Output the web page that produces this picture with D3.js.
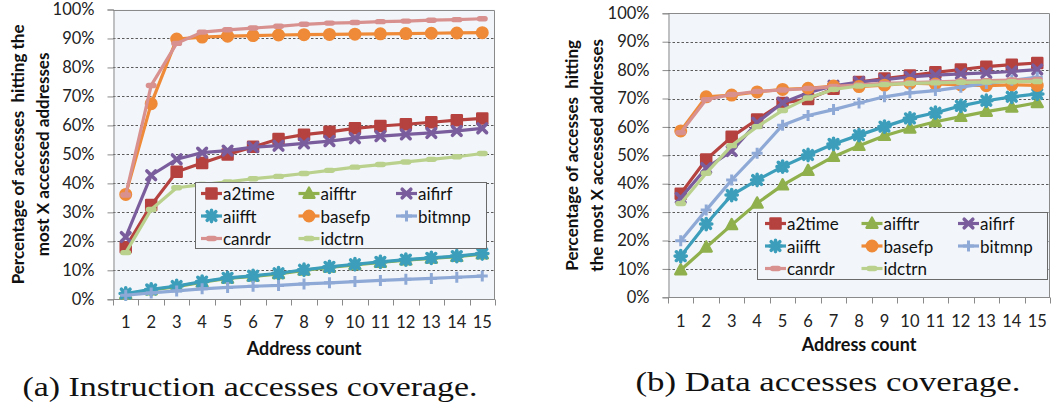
<!DOCTYPE html>
<html>
<head>
<meta charset="utf-8">
<script src="https://cdn.jsdelivr.net/npm/d3@7"></script>
<style>
  body { margin: 0; background: #fff; }
  svg { display: block; }
</style>
</head>
<body>
<svg id="fig" width="1051" height="409"></svg>
<script>
// ---- data -------------------------------------------------------------
const addressCounts = [1, 2, 3, 4, 5, 6, 7, 8, 9, 10, 11, 12, 13, 14, 15];
const percentTicks = [0, 10, 20, 30, 40, 50, 60, 70, 80, 90, 100];
const seriesNames = ["a2time", "aifftr", "aifirf", "aiifft", "basefp", "bitmnp", "canrdr", "idctrn"];

// (a) instruction accesses coverage, percent
const instrA2time = [18, 32.5, 44, 47, 50, 52.6, 55.3, 56.8, 57.8, 59, 59.8, 60.4, 61.1, 61.8, 62.4];
const instrAifftr = [1.8, 3.2, 4.4, 5.9, 7.2, 7.9, 8.8, 10, 11, 11.9, 12.7, 13.5, 14.1, 14.7, 15.6];
const instrAifirf = [21.5, 42.8, 48.3, 50.6, 51.3, 52.5, 53, 53.8, 54.6, 55.6, 56.3, 56.9, 57.4, 58.1, 59];
const instrAiifft = [2, 3.4, 4.6, 6.1, 7.4, 8.1, 9, 10.2, 11.2, 12.1, 12.9, 13.7, 14.3, 14.9, 15.8];
const instrBasefp = [36.2, 67.5, 89.8, 90.5, 90.8, 91, 91.2, 91.3, 91.4, 91.5, 91.6, 91.7, 91.8, 91.9, 92];
const instrBitmnp = [1.4, 2.2, 2.9, 3.6, 4.1, 4.5, 4.8, 5.3, 5.7, 6.1, 6.5, 6.9, 7.2, 7.6, 8];
const instrCanrdr = [36, 73.8, 88.3, 92.2, 93, 93.6, 94.2, 94.9, 95.3, 95.5, 95.8, 96, 96.3, 96.5, 96.8];
const instrIdctrn = [16.1, 31, 38.5, 39.6, 40.5, 41.6, 42.4, 43.4, 44.5, 45.6, 46.5, 47.4, 48.3, 49.2, 50.3];

// (b) data accesses coverage, percent
const dataA2time = [36.5, 48.5, 56.5, 62.6, 68.4, 69.8, 73.4, 75.8, 77, 78.1, 79.2, 80.2, 81.2, 81.9, 82.5];
const dataAifftr = [9.6, 17.6, 25.5, 33.1, 39.5, 44.6, 49.5, 53.4, 56.9, 59.5, 61.8, 63.6, 65.4, 66.9, 68.5];
const dataAifirf = [35, 45.5, 51.5, 61.5, 68.5, 72, 74.5, 75.8, 76.6, 77.6, 78.2, 78.7, 79, 79.5, 80.2];
const dataAiifft = [14.5, 25.8, 36, 41.3, 46, 50.1, 54, 57.1, 60.1, 63, 65, 67.4, 69.2, 70.6, 71.6];
const dataBasefp = [58.6, 70.6, 71.2, 72.3, 73.2, 73.6, 74.4, 74.2, 74.7, 75.4, 75.1, 74.8, 74.5, 74.8, 74.6];
const dataBitmnp = [19.9, 30.7, 41.3, 50.7, 60.6, 64, 66.1, 68.4, 70.6, 72, 72.8, 74, 75.3, 76.4, 77.5];
const dataCanrdr = [58, 69.6, 71.4, 72.5, 73, 73.5, 74.2, 74.8, 75.3, 75.6, 75.9, 76.1, 76.3, 76.5, 76.7];
const dataIdctrn = [33, 43.7, 53.4, 60.1, 65.8, 70.2, 73.2, 74.4, 74.9, 75.3, 75.5, 75.7, 75.8, 75.9, 76];

const instrSeries = [instrA2time, instrAifftr, instrAifirf, instrAiifft, instrBasefp, instrBitmnp, instrCanrdr, instrIdctrn];
const dataSeries = [dataA2time, dataAifftr, dataAifirf, dataAiifft, dataBasefp, dataBitmnp, dataCanrdr, dataIdctrn];

// ---- styling ----------------------------------------------------------
const seriesColors = ["#B5423F", "#8FB04C", "#7A5D9C", "#3C9EBA", "#EE8A38", "#8FA9D6", "#D8918F", "#B9D18C"];
const markerKinds = ["square", "triangle", "cross", "star", "circle", "plus", "dash", "dash"];
const uiFont = "Lato, 'Open Sans', sans-serif";
const tickSize = 16.5;
const legendSize = 17;

// marker drawing: filled shapes get a same-colour outline, stroked shapes use thick strokes
function drawMarker(sel, kind, color) {
  switch (kind) {
    case "square":
      sel.append("rect").attr("x", -5).attr("y", -5).attr("width", 10).attr("height", 10)
        .attr("fill", color).attr("stroke", color).attr("stroke-width", 2.5).attr("stroke-linejoin", "round");
      break;
    case "circle":
      sel.append("circle").attr("r", 5.5)
        .attr("fill", color).attr("stroke", color).attr("stroke-width", 2);
      break;
    case "triangle":
      sel.append("path").attr("d", "M0,-6L5.6,4.3L-5.6,4.3Z")
        .attr("fill", color).attr("stroke", color).attr("stroke-width", 2.2).attr("stroke-linejoin", "round");
      break;
    case "cross":
      sel.append("path").attr("d", "M-4.3,-4.3L4.3,4.3M-4.3,4.3L4.3,-4.3")
        .attr("stroke", color).attr("stroke-width", 3.6).attr("stroke-linecap", "round");
      break;
    case "star":
      sel.append("path").attr("d", "M-4.3,-4.3L4.3,4.3M-4.3,4.3L4.3,-4.3M-5.6,0L5.6,0M0,-5.6L0,5.6")
        .attr("stroke", color).attr("stroke-width", 3.6).attr("stroke-linecap", "round");
      break;
    case "plus":
      sel.append("path").attr("d", "M-5.5,0L5.5,0M0,-5.5L0,5.5")
        .attr("stroke", color).attr("stroke-width", 3);
      break;
    case "dash":
      sel.append("rect").attr("x", -5.5).attr("y", -2.7).attr("width", 11).attr("height", 5.4).attr("rx", 2.7)
        .attr("fill", color);
      break;
  }
}

const svg = d3.select("#fig");

function drawPanel(cfg) {
  const { x0, x1, yTop, yBottom, series, legend, titleDx, xTitleY, tickLabelY } = cfg;
  const g = svg.append("g");

  const x = d3.scaleBand().domain(addressCounts).range([x0, x1]).padding(0);
  const y = d3.scaleLinear().domain([0, 100]).range([yBottom, yTop]);

  // plot background
  g.append("rect").attr("x", x0).attr("y", yTop).attr("width", x1 - x0).attr("height", yBottom - yTop)
    .attr("fill", "#F2F6FA");

  // dashed horizontal gridlines
  g.append("g").selectAll("line").data(percentTicks.filter(d => d > 0 && d < 100)).join("line")
    .attr("x1", x0).attr("x2", x1).attr("y1", d => Math.round(y(d)) + 0.5).attr("y2", d => Math.round(y(d)) + 0.5)
    .attr("stroke", "#5a5a5a").attr("stroke-width", 1).attr("stroke-dasharray", "2.5,2");

  // plot frame (top / right)
  g.append("path")
    .attr("d", `M${x0},${Math.round(yTop) + 0.5}H${x1 - 0.5}V${yBottom}`)
    .attr("fill", "none").attr("stroke", "#8a8a8a").attr("stroke-width", 1);

  // y axis
  const yAxis = g.append("g").attr("transform", `translate(${x0 + 0.5},0)`)
    .call(d3.axisLeft(y).tickValues(percentTicks).tickFormat(d => d + "%").tickSize(6).tickPadding(13));
  yAxis.select(".domain").attr("stroke", "#8a8a8a");
  yAxis.selectAll(".tick line").attr("stroke", "#8a8a8a");
  yAxis.selectAll(".tick text").attr("font-family", uiFont).attr("font-size", tickSize).attr("fill", "#222");

  // x axis: labels centred on bands, tick marks on band boundaries
  const xAxis = g.append("g").attr("transform", `translate(0,${Math.round(yBottom) + 0.5})`)
    .call(d3.axisBottom(x).tickSize(0).tickPadding(tickLabelY));
  xAxis.select(".domain").attr("stroke", "#8a8a8a").attr("d", `M${x0},0H${x1}`);
  xAxis.selectAll(".tick text").attr("font-family", uiFont).attr("font-size", tickSize).attr("fill", "#222");
  const bounds = addressCounts.map(d => x(d)).concat([x1]);
  xAxis.append("g").selectAll("line").data(bounds).join("line")
    .attr("x1", d => Math.round(d) + 0.5).attr("x2", d => Math.round(d) + 0.5)
    .attr("y1", 0).attr("y2", 6).attr("stroke", "#8a8a8a");

  // axis titles
  g.append("text").attr("x", (x0 + x1) / 2).attr("y", xTitleY)
    .attr("text-anchor", "middle").attr("font-family", uiFont).attr("font-weight", "bold")
    .attr("font-size", 18).attr("fill", "#111").text("Address count");
  const yMid = (yTop + yBottom) / 2;
  cfg.yTitle.forEach((line, i) => {
    g.append("text")
      .attr("transform", `translate(${x0 + titleDx[i]},${yMid}) rotate(-90)`)
      .attr("text-anchor", "middle").attr("dominant-baseline", "central")
      .attr("font-family", uiFont).attr("font-weight", "bold").attr("font-size", 17)
      .attr("fill", "#111").style("white-space", "pre").text(line);
  });

  // series lines and markers
  const line = d3.line().x((d, i) => x(addressCounts[i]) + x.bandwidth() / 2).y(d => y(d));
  series.forEach((vals, s) => {
    const sg = g.append("g");
    sg.append("path").datum(vals).attr("d", line)
      .attr("fill", "none").attr("stroke", seriesColors[s]).attr("stroke-width", 3.2)
      .attr("stroke-linejoin", "round");
    vals.forEach((v, i) => {
      const m = sg.append("g").attr("transform", `translate(${x(addressCounts[i]) + x.bandwidth() / 2},${y(v)})`);
      drawMarker(m, markerKinds[s], seriesColors[s]);
    });
  });

  // legend (3 columns)
  const L = legend;
  const lg = g.append("g");
  lg.append("rect").attr("x", L.x + 0.5).attr("y", L.y + 0.5).attr("width", L.w).attr("height", L.h)
    .attr("fill", "#F2F6FA").attr("stroke", "#6a6a6a").attr("stroke-width", 1);
  seriesNames.forEach((name, i) => {
    const col = i % 3, row = Math.floor(i / 3);
    const tx = L.textX + col * L.colStep;
    const cy = L.y + L.rowTop + row * L.rowStep;
    lg.append("line").attr("x1", tx - 22).attr("x2", tx - 1).attr("y1", cy).attr("y2", cy)
      .attr("stroke", seriesColors[i]).attr("stroke-width", 3.2);
    drawMarker(lg.append("g").attr("transform", `translate(${tx - 11.5},${cy})`), markerKinds[i], seriesColors[i]);
    lg.append("text").attr("x", tx).attr("y", cy).attr("dominant-baseline", "central")
      .attr("font-family", uiFont).attr("font-size", legendSize).attr("fill", "#111").text(name);
  });

  // caption
  g.append("text").attr("x", cfg.captionX).attr("y", cfg.captionY).attr("text-anchor", "middle")
    .attr("font-family", "'Liberation Serif', 'DejaVu Serif', serif").attr("font-size", 27)
    .attr("textLength", cfg.captionW).attr("lengthAdjust", "spacingAndGlyphs")
    .attr("fill", "#111").text(cfg.caption);
}

drawPanel({
  x0: 113, x1: 495, yTop: 9.5, yBottom: 299.3,
  series: instrSeries,
  titleDx: [-96, -71],
  yTitle: ["Percentage of accesses  hitting the", "most X accessed addresses"],
  xTitleY: 355, tickLabelY: 17,
  legend: { x: 195, y: 182, w: 291, h: 66, textX: 223, colStep: 97.5, rowTop: 11.5, rowStep: 22.5 },
  caption: "(a) Instruction accesses coverage.", captionX: 250, captionY: 396, captionW: 455
});

drawPanel({
  x0: 668, x1: 1050, yTop: 13.3, yBottom: 297.3,
  series: dataSeries,
  titleDx: [-97, -72],
  yTitle: ["Percentage of accesses  hitting", "the most X accessed addresses"],
  xTitleY: 351, tickLabelY: 18,
  legend: { x: 757, y: 212, w: 290, h: 67, textX: 787, colStep: 96.5, rowTop: 11.5, rowStep: 22.5 },
  caption: "(b) Data accesses coverage.", captionX: 828, captionY: 391, captionW: 385
});
</script>
</body>
</html>
